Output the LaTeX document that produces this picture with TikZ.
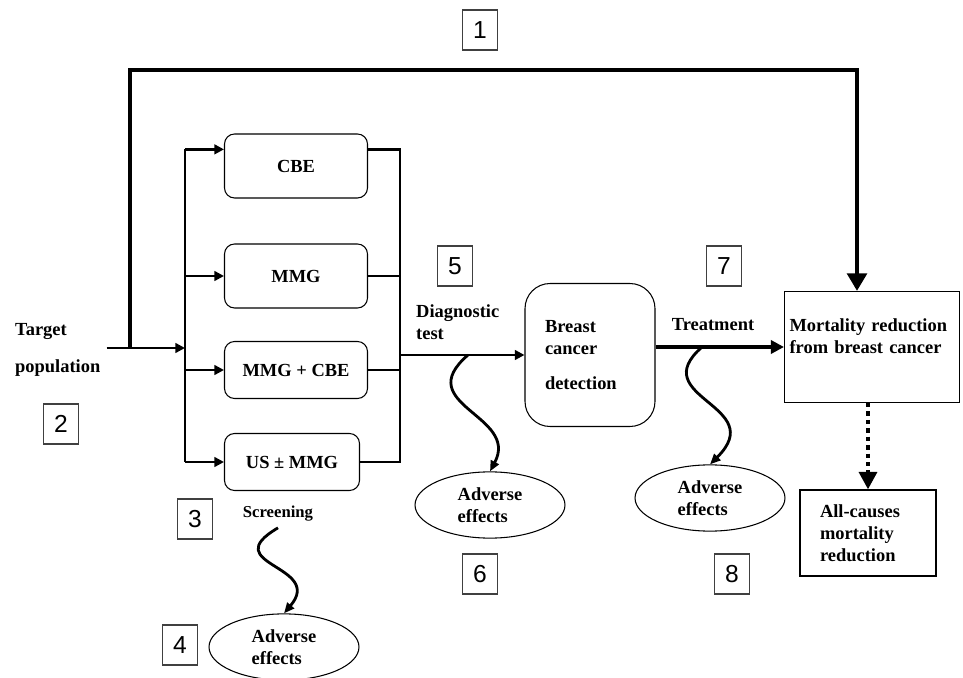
\documentclass[tikz,border=0pt]{standalone}
\usepackage{fontspec}
\setmainfont{Liberation Serif}
\newfontfamily\numfont{Liberation Sans}
\usepackage{tikz}
\usetikzlibrary{shapes.geometric, arrows.meta}
\newcommand\lblfont{\fontsize{10.5}{12.6}\selectfont\bfseries}
\tikzstyle{screen} = [rectangle, rounded corners=0.2cm, minimum width=2.86cm, minimum height=1.28cm, text centered, draw=black, line width=0.6pt, font=\lblfont]
\tikzstyle{detect} = [rectangle, rounded corners=0.5cm, minimum height=2.86cm, text width=1.8cm, inner xsep=0.4cm, align=left, draw=black, line width=0.6pt, font=\lblfont]
\tikzstyle{outcome} = [rectangle, align=left, draw=black, line width=0.6pt, font=\lblfont]
\tikzstyle{harm} = [ellipse, minimum width=3cm, minimum height=1.24cm, align=left, draw=black, line width=0.6pt, font=\lblfont]
\tikzstyle{numbox} = [rectangle, minimum width=0.7cm, minimum height=0.8cm, draw=black!75, line width=0.6pt, font=\numfont\fontsize{14}{16}\selectfont]
\tikzstyle{txt} = [align=left, font=\lblfont]
\tikzstyle{branch} = [line width=1.4pt]
\tikzstyle{arrow} = [line width=1.4pt, -{Triangle[length=5.5pt,width=5.5pt]}]
\tikzstyle{wave} = [line width=1.6pt, -{Triangle[length=6pt,width=5pt]}]
\tikzstyle{bigarrow} = [line width=2.8pt, -{Triangle[length=10pt,width=11pt]}]
\tikzstyle{treat} = [line width=2.2pt, -{Triangle[length=7.5pt,width=7.5pt]}]
\tikzstyle{dotarrow} = [line width=2.5pt, dash pattern=on 2.5pt off 2.3pt, -{Triangle[length=10pt,width=10pt]}]

\begin{document}
\begin{tikzpicture}[x=0.02cm, y=-0.02cm]
  \useasboundingbox (0,0) rectangle (963,678);

  \node (tgt) [txt, anchor=west] at (9,350) {Target\\[8pt]population};
  \node (cbe) [screen] at (296,166) {CBE};
  \node (mmg) [screen] at (296,276) {MMG};
  \node (mmgcbe) [screen, minimum height=1.14cm] at (296,370) {MMG + CBE};
  \node (usmmg) [screen, minimum width=2.7cm, minimum height=1.14cm] at (292,462) {US ± MMG};
  \node (scr) [txt, font=\fontsize{9.5}{11}\selectfont\bfseries] at (278,514) {Screening};
  \node (diag) [txt, anchor=west] at (410,322) {Diagnostic\\test};
  \node (bcd) [detect] at (590,355) {Breast\\cancer\\[7pt]detection};
  \node (treat) [txt] at (713,325) {Treatment};
  \node (mort) [outcome, minimum height=2.22cm, text width=3.3cm, inner xsep=0.1cm] at (872,347) {Mortality reduction\\from breast cancer\\~};
  \node (allc) [outcome, minimum height=1.72cm, text width=1.92cm, inner xsep=0.4cm] at (868,533) {All-causes\\mortality\\reduction};

  \node (ae4) [harm] at (284,647) {Adverse\\effects};
  \node (ae6) [harm] at (490,505) {Adverse\\effects};
  \node (ae8) [harm] at (710,498) {Adverse\\effects};

  \node (n1) [numbox] at (480,30) {1};
  \node (n2) [numbox] at (61,424) {2};
  \node (n3) [numbox] at (195,519) {3};
  \node (n4) [numbox] at (180,645) {4};
  \node (n5) [numbox] at (455,266) {5};
  \node (n6) [numbox] at (480,574) {6};
  \node (n7) [numbox] at (724,266) {7};
  \node (n8) [numbox] at (732,574) {8};

  \coordinate (split) at (130,348);
  \coordinate (fork) at (185,348);
  \coordinate (join) at (400,355);
  \coordinate (loop) at (857,70);
  \coordinate (dstart) at (468,355);
  \coordinate (tstart) at (702,347);

  % population to screening options
  \draw[arrow] (tgt.east |- fork) -- (fork);
  \draw[branch] (cbe.167 -| fork) -- (usmmg.west -| fork);
  \draw[arrow] (cbe.167 -| fork) -- (cbe.167);
  \foreach \b in {mmg, mmgcbe, usmmg}
    \draw[arrow] (\b.west -| fork) -- (\b.west);
  \draw[branch] (cbe.13) -- (cbe.13 -| join) -- (usmmg.east -| join) -- (usmmg.east);
  \foreach \b in {mmg, mmgcbe}
    \draw[branch] (\b.east) -- (\b.east -| join);
  \draw[arrow] (join) -- (bcd.west |- join);

  % direct path 1
  \draw[bigarrow] (split) |- (loop) -- (loop |- mort.north);
  \draw[treat] (bcd.east |- tstart) -- (mort.west |- tstart);
  \draw[dotarrow] (allc.north |- mort.south) -- (allc.north);

  % harms
  \draw[wave] (scr.south) .. controls (215,565) and (325,565) .. (ae4.north);
  \draw[wave] (dstart) .. controls (410,405) and (520,415) .. (ae6.north);
  \draw[wave] (tstart) .. controls (644,398) and (770,405) .. (ae8.north);

\end{tikzpicture}
\end{document}
